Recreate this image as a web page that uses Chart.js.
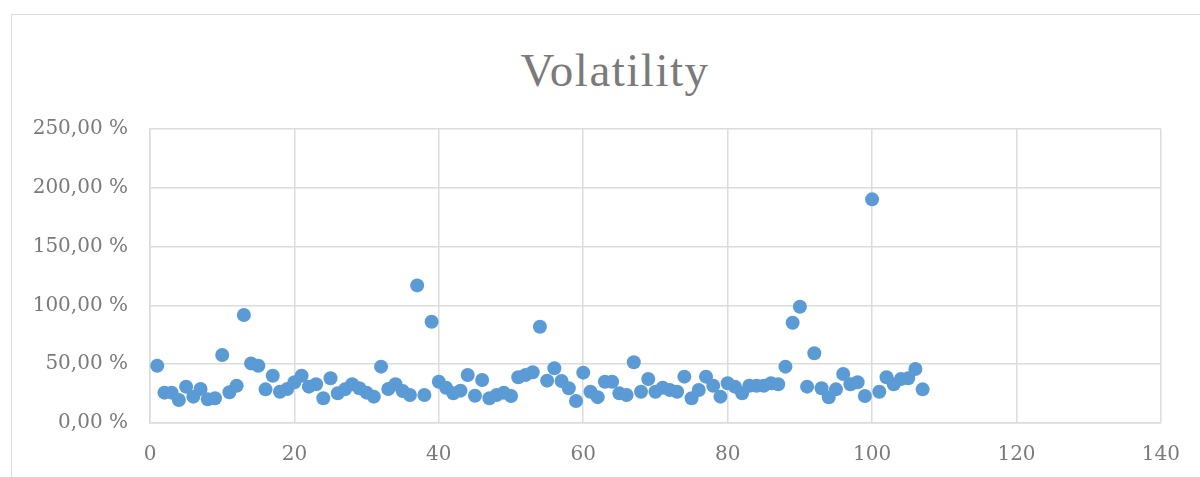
<!DOCTYPE html>
<html>
<head>
<meta charset="utf-8">
<script src="https://cdn.jsdelivr.net/npm/chart.js@4/dist/chart.umd.min.js"></script>
<style>
  html, body { margin: 0; padding: 0; background: #fff; overflow: hidden; }
  #wrap { position: relative; width: 1200px; height: 477px; }
  #frame { position: absolute; left: 11px; top: 14px; width: 1250px; height: 520px; border: 1px solid #d9d9d9; box-sizing: border-box; }
  #titulo { position: absolute; left: 415px; width: 400px; top: 42px; text-align: center;
            font-family: "Liberation Serif", serif; font-size: 47px; color: #7a7a7a; letter-spacing: 1.5px; line-height: 56px; }
  #grafico { position: absolute; left: 0; top: 0; }
</style>
</head>
<body>
<div id="wrap">
  <div id="frame"></div>
  <div id="titulo">Volatility</div>
  <canvas id="grafico" width="1200" height="477"></canvas>
</div>
<script>
// datos
const dias = [];
for (let i = 1; i <= 107; i++) dias.push(i);

const volatilidad = [
  48.7, 25.8, 25.8, 19.6, 30.9, 22.4, 28.9, 20.1, 21.0, 57.8,
  26.1, 31.7, 91.8, 50.7, 48.7, 28.6, 40.2, 26.6, 28.9, 34.6,
  40.2, 30.9, 32.9, 21.0, 38.0, 25.2, 28.6, 32.9, 29.5, 25.8,
  22.4, 47.9, 28.9, 32.9, 27.2, 23.8, 117.0, 23.8, 86.1, 35.1,
  30.0, 25.2, 27.5, 40.8, 23.2, 36.6, 21.0, 23.8, 25.8, 23.0,
  38.9, 40.8, 43.1, 81.9, 36.0, 46.5, 35.7, 29.5, 18.7, 42.8,
  26.6, 22.0, 35.1, 35.1, 25.2, 23.8, 51.6, 26.6, 37.4, 26.6,
  30.0, 28.1, 26.6, 39.4, 21.0, 28.1, 39.4, 31.7, 22.4, 33.8,
  30.9, 25.2, 31.7, 31.7, 31.7, 33.8, 32.9, 47.9, 85.3, 98.9,
  30.9, 59.3, 29.5, 21.9, 28.6, 41.7, 32.9, 34.6, 23.0, 190.2,
  26.6, 38.9, 32.9, 37.4, 38.0, 45.9, 28.6
];

const ticksX = [0, 20, 40, 60, 80, 100, 120, 140];
const ticksY = [0, 50, 100, 150, 200, 250];

const puntos = dias.map((d, i) => ({ x: d, y: volatilidad[i] }));

const fuenteEjes = { family: '"DejaVu Serif", serif', size: 20 };
const grisTexto = '#7a7a7a';
const grisGrilla = '#dcdcdc';

const ctx = document.getElementById('grafico').getContext('2d');
const grafico = new Chart(ctx, {
    type: 'scatter',
    data: {
        datasets: [{
            label: 'Volatility',
            data: puntos,
            backgroundColor: '#5b9bd5',
            borderColor: '#5b9bd5',
            borderWidth: 0,
            pointRadius: 7,
            pointHoverRadius: 7
        }]
    },
    options: {
        responsive: false,
        animation: false,
        layout: { padding: { top: 129, right: 38, bottom: 0, left: 0 } },
        plugins: {
            legend: { display: false },
            tooltip: { enabled: false },
            title: { display: false }
        },
        scales: {
            x: {
                type: 'linear',
                min: 0,
                max: 140,
                afterBuildTicks: axis => { axis.ticks = ticksX.map(v => ({ value: v })); },
                afterFit: axis => { axis.height = 54; },
                grid: { color: grisGrilla, lineWidth: 1.5, drawTicks: false },
                border: { color: grisGrilla, width: 1.5 },
                ticks: { color: grisTexto, font: fuenteEjes, padding: 20, maxRotation: 0 }
            },
            y: {
                type: 'linear',
                min: 0,
                max: 250,
                afterBuildTicks: axis => { axis.ticks = ticksY.map(v => ({ value: v })); },
                afterFit: axis => { axis.width = 150; },
                grid: { color: grisGrilla, lineWidth: 1.5, drawTicks: false },
                border: { color: grisGrilla, width: 1.5 },
                ticks: {
                    color: grisTexto,
                    font: fuenteEjes,
                    padding: 22,
                    callback: v => v.toFixed(2).replace('.', ',') + ' %'
                }
            }
        }
    }
});
</script>
</body>
</html>
